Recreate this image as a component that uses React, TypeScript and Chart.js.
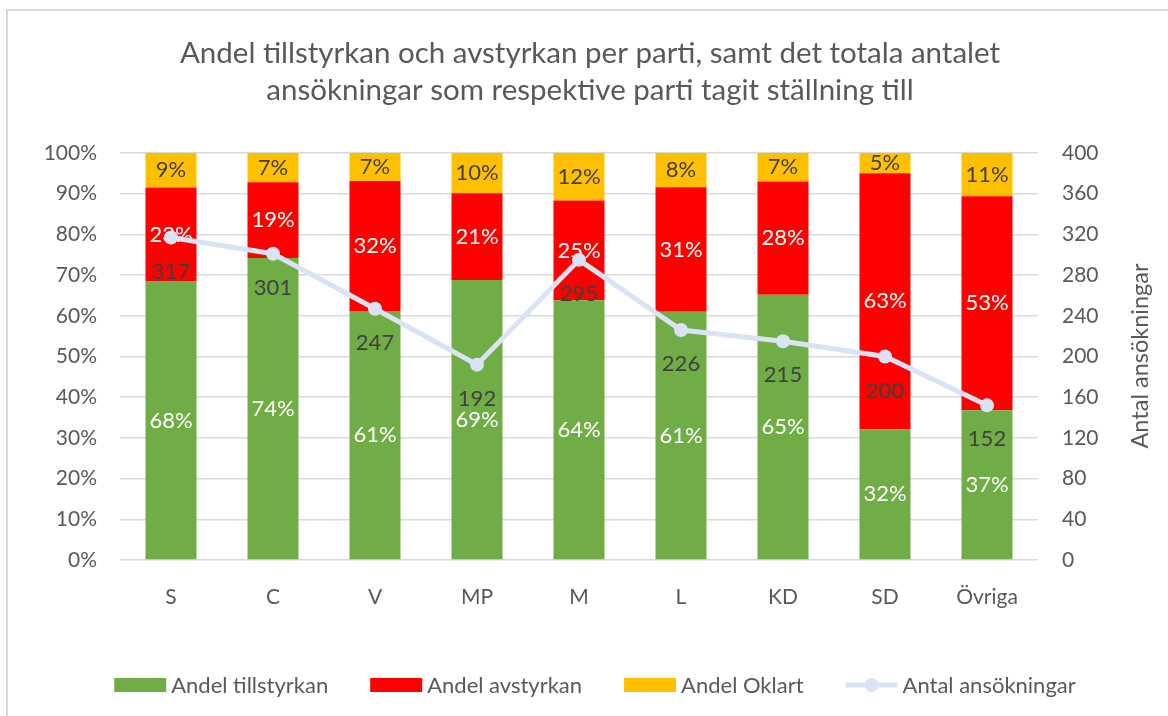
import React, { useEffect, useRef } from "react";
import { Chart, registerables } from "chart.js";

Chart.register(...registerables);

const categories = ["S", "C", "V", "MP", "M", "L", "KD", "SD", "Övriga"];
const tillstyrkan = [68.4, 74.2, 61.2, 68.8, 63.8, 61.0, 65.2, 32.1, 36.8];
const avstyrkan = [23.1, 18.6, 31.9, 21.3, 24.5, 30.6, 27.8, 62.9, 52.6];
const oklart = [8.5, 7.2, 6.9, 9.9, 11.7, 8.4, 7.0, 5.0, 10.6];
const antal = [317, 301, 247, 192, 295, 226, 215, 200, 152];
const leftTicks = [0, 10, 20, 30, 40, 50, 60, 70, 80, 90, 100];
const rightTicks = [0, 40, 80, 120, 160, 200, 240, 280, 320, 360, 400];

const titleLines = [
  "Andel tillstyrkan och avstyrkan per parti, samt det totala antalet",
  "ansökningar som respektive parti tagit ställning till",
];
const rightAxisTitle = "Antal ansökningar";

const FONT = "Lato, 'Open Sans', sans-serif";
const GREEN = "#70ad47";
const RED = "#ff0000";
const YELLOW = "#ffc000";
const LINE = "#dae3f3";
const DARK = "#404040";
const GREY = "#595959";
const GRID = "#d9d9d9";

const labelsPlugin = {
  id: "customLabels",
  afterDatasetDraw(chart: any, args: any) {
    const ds = chart.data.datasets[args.index];
    if (ds.type === "line") return;
    const meta = args.meta;
    const ctx = chart.ctx;
    ctx.save();
    ctx.font = `22px ${FONT}`;
    ctx.textAlign = "center";
    ctx.textBaseline = "middle";
    ctx.fillStyle = ds.labelColor;
    meta.data.forEach((bar: any, i: number) => {
      const v = ds.data[i];
      const y = (bar.y + bar.base) / 2;
      ctx.fillText(Math.round(v) + "%", bar.x, y);
    });
    ctx.restore();
  },
  afterDatasetsDraw(chart: any) {
    const ctx = chart.ctx;
    chart.data.datasets.forEach((ds: any, di: number) => {
      if (ds.type !== "line") return;
      const meta = chart.getDatasetMeta(di);
      ctx.save();
      ctx.font = `22px ${FONT}`;
      ctx.textAlign = "center";
      ctx.textBaseline = "middle";
      ctx.fillStyle = DARK;
      meta.data.forEach((pt: any, i: number) => {
        ctx.fillText(String(ds.data[i]), pt.x, pt.y + 34);
      });
      ctx.restore();
    });
  },
  afterDraw(chart: any) {
    const ctx = chart.ctx;
    ctx.save();
    // Title
    ctx.fillStyle = GREY;
    ctx.font = `29.5px ${FONT}`;
    ctx.textAlign = "center";
    ctx.textBaseline = "middle";
    titleLines.forEach((t, i) => ctx.fillText(t, 590, 53 + i * 37));
    // Right axis title
    ctx.save();
    ctx.translate(1140, 356);
    ctx.rotate(-Math.PI / 2);
    ctx.font = `23.5px ${FONT}`;
    ctx.fillText(rightAxisTitle, 0, 0);
    ctx.restore();
    // Legend
    ctx.font = `22px ${FONT}`;
    ctx.textBaseline = "middle";
    ctx.textAlign = "left";
    const items = chart.data.datasets.map((ds: any) => ({
      label: ds.label,
      color: ds.type === "line" ? ds.borderColor : ds.backgroundColor,
      line: ds.type === "line",
    }));
    const boxW = 52;
    const gapText = 5;
    const gapItem = 42;
    const widths = items.map((it: any) => boxW + gapText + ctx.measureText(it.label).width);
    const total = widths.reduce((a: number, b: number) => a + b, 0) + gapItem * (items.length - 1);
    let x = 595 - total / 2;
    const y = 685;
    items.forEach((it: any, i: number) => {
      if (it.line) {
        ctx.strokeStyle = it.color;
        ctx.lineWidth = 5;
        ctx.beginPath();
        ctx.moveTo(x, y);
        ctx.lineTo(x + boxW, y);
        ctx.stroke();
        ctx.fillStyle = it.color;
        ctx.beginPath();
        ctx.arc(x + boxW / 2, y, 7, 0, Math.PI * 2);
        ctx.fill();
      } else {
        ctx.fillStyle = it.color;
        ctx.fillRect(x, y - 7, boxW, 14);
      }
      ctx.fillStyle = GREY;
      ctx.fillText(it.label, x + boxW + gapText, y + 1);
      x += widths[i] + gapItem;
    });
    ctx.restore();
  },
};

export default function App() {
  const ref = useRef<HTMLCanvasElement | null>(null);

  useEffect(() => {
    if (!ref.current) return;
    const chart = new Chart(ref.current, {
      type: "bar",
      data: {
        labels: categories,
        datasets: [
          {
            type: "bar",
            label: "Andel tillstyrkan",
            data: tillstyrkan,
            backgroundColor: GREEN,
            labelColor: "#ffffff",
            yAxisID: "y",
            order: 2,
          } as any,
          {
            type: "bar",
            label: "Andel avstyrkan",
            data: avstyrkan,
            backgroundColor: RED,
            labelColor: "#ffffff",
            yAxisID: "y",
            order: 2,
          } as any,
          {
            type: "bar",
            label: "Andel Oklart",
            data: oklart,
            backgroundColor: YELLOW,
            labelColor: DARK,
            yAxisID: "y",
            order: 2,
          } as any,
          {
            type: "line",
            label: "Antal ansökningar",
            data: antal,
            borderColor: LINE,
            backgroundColor: LINE,
            borderWidth: 5,
            pointRadius: 7,
            pointBackgroundColor: LINE,
            pointBorderColor: LINE,
            pointBorderWidth: 0,
            yAxisID: "y2",
            order: 1,
          } as any,
        ],
      },
      options: {
        responsive: false,
        animation: false,
        layout: { padding: { top: 153, bottom: 36, left: 0, right: 0 } },
        datasets: { bar: { barPercentage: 0.5, categoryPercentage: 1 } },
        plugins: {
          legend: { display: false },
          title: { display: false },
          tooltip: { enabled: false },
        },
        scales: {
          x: {
            stacked: true,
            grid: { display: false },
            border: { display: false },
            ticks: { color: GREY, font: { family: FONT, size: 21 }, padding: 17 },
            afterFit: (s: any) => {
              s.height = 120;
            },
          },
          y: {
            stacked: true,
            position: "left",
            min: 0,
            max: 100,
            afterBuildTicks: (s: any) => {
              s.ticks = leftTicks.map((v) => ({ value: v }));
            },
            grid: { color: GRID, lineWidth: 1.5, drawTicks: false },
            border: { display: false },
            ticks: {
              color: GREY,
              font: { family: FONT, size: 21 },
              padding: 23,
              callback: (v: any) => v + "%",
            },
            afterFit: (s: any) => {
              s.width = 120;
            },
          },
          y2: {
            position: "right",
            min: 0,
            max: 400,
            afterBuildTicks: (s: any) => {
              s.ticks = rightTicks.map((v) => ({ value: v }));
            },
            grid: { drawOnChartArea: false, drawTicks: false },
            border: { display: false },
            ticks: {
              color: GREY,
              font: { family: FONT, size: 21 },
              padding: 24,
            },
            afterFit: (s: any) => {
              s.width = 130;
            },
          },
        },
      },
      plugins: [labelsPlugin],
    } as any);
    return () => chart.destroy();
  }, []);

  return (
    <div
      style={{
        position: "fixed",
        left: 0,
        top: 0,
        width: 1168,
        height: 716,
        background: "#ffffff",
        overflow: "hidden",
      }}
    >
      <div
        style={{
          position: "absolute",
          left: 6,
          top: 9,
          width: 1300,
          height: 900,
          borderLeft: `2px solid ${GRID}`,
          borderTop: `2px solid ${GRID}`,
        }}
      />
      <canvas
        ref={ref}
        width={1168}
        height={716}
        style={{ position: "absolute", left: 0, top: 0, display: "block" }}
      />
    </div>
  );
}
